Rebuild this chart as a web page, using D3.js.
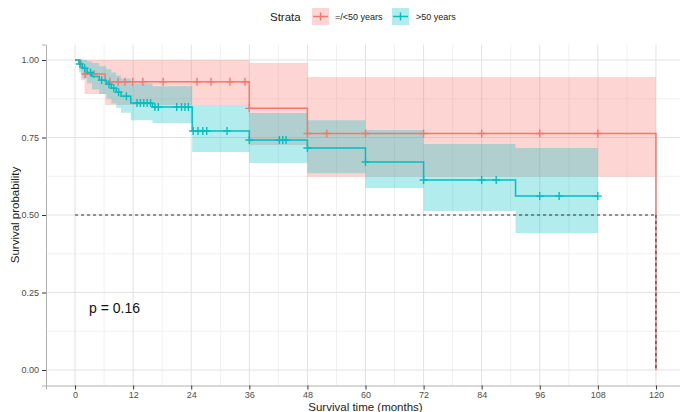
<!DOCTYPE html>
<html><head><meta charset="utf-8">
<script src="https://cdn.jsdelivr.net/npm/d3@7"></script>
<style>body{margin:0;background:#fff}svg{display:block;font-family:"Liberation Sans",Arial,sans-serif}</style>
</head><body><svg id="c" width="680" height="412"></svg>
<script>
const strata = ["=/<50 years", ">50 years"];
const colors = ["#F8766D", "#00BFC4"];
const xTicks = [0,12,24,36,48,60,72,84,96,108,120];
const yTicks = [0,0.25,0.5,0.75,1];

// =/<50 years
const redTime  = [0, 1.2, 2.0, 6.2, 36, 48, 120];
const redSurv  = [1, 0.977, 0.955, 0.93, 0.844, 0.763, 0];
const redUpper = [1, 1, 1, 1, 0.99, 0.945, 0.945];
const redLower = [1, 0.935, 0.89, 0.855, 0.726, 0.623, 0.623];
const redCensor = [2.1,3.9,7.2,8.9,10.3,11.9,14,18.2,25.2,28.1,32,35.1,36,48,52,60,72,84,96,108];

// >50 years
const tealTime  = [0, 0.8, 1.5, 2.5, 3.5, 5, 6.5, 7.5, 8.5, 9.5, 11.5, 16, 24.2, 36, 48, 60, 72, 91, 108];
const tealSurv  = [1, 0.987, 0.973, 0.96, 0.947, 0.935, 0.922, 0.909, 0.896, 0.883, 0.861, 0.848, 0.771, 0.742, 0.716, 0.671, 0.613, 0.561, 0.561];
const tealUpper = [1, 1, 1, 0.995, 0.99, 0.98, 0.97, 0.96, 0.95, 0.94, 0.925, 0.915, 0.855, 0.829, 0.806, 0.774, 0.729, 0.716, 0.716];
const tealLower = [1, 0.96, 0.94, 0.925, 0.905, 0.89, 0.875, 0.86, 0.845, 0.83, 0.806, 0.797, 0.703, 0.668, 0.635, 0.587, 0.513, 0.442, 0.442];
const tealCensor = [1,2,3.2,5.5,7,8,9,10.6,12.8,13.5,14.2,14.9,15.6,16.5,17.2,21,22,22.7,23.4,24.4,25.4,26.4,27.2,31.4,36,42.2,42.9,43.6,48,60,72,84,87,96,100,108];

const pText = "p = 0.16";
const medianTime = 120;

const svg = d3.select("#c");
const x = d3.scaleLinear().domain([-6,126]).range([46,685]);
const y = d3.scaleLinear().domain([-0.05,1.05]).range([385.5,44.5]);

// grid
const g = svg.append("g");
const minorX = xTicks.slice(0,-1).map(d=>d+6);
const minorY = [0.125,0.375,0.625,0.875];
g.selectAll(".mx").data(minorX).join("line").attr("x1",d=>x(d)).attr("x2",d=>x(d)).attr("y1",y(-0.05)).attr("y2",y(1.05)).attr("stroke","#f0f0f0").attr("stroke-width",1);
g.selectAll(".my").data(minorY).join("line").attr("y1",d=>y(d)).attr("y2",d=>y(d)).attr("x1",x(-6)).attr("x2",x(126)).attr("stroke","#f0f0f0").attr("stroke-width",1);
g.selectAll(".gx").data(xTicks).join("line").attr("x1",d=>x(d)).attr("x2",d=>x(d)).attr("y1",y(-0.05)).attr("y2",y(1.05)).attr("stroke","#e2e2e2").attr("stroke-width",1);
g.selectAll(".gy").data(yTicks).join("line").attr("y1",d=>y(d)).attr("y2",d=>y(d)).attr("x1",x(-6)).attr("x2",x(126)).attr("stroke","#e2e2e2").attr("stroke-width",1);

function series(time, surv, up, lo){ return time.map((t,i)=>({t, s:surv[i], u:up[i], l:lo[i]})); }
const groups = [
  {data: series(redTime, redSurv, redUpper, redLower), censor: redCensor, col: colors[0]},
  {data: series(tealTime, tealSurv, tealUpper, tealLower), censor: tealCensor, col: colors[1]}
];

const area = d3.area().curve(d3.curveStepAfter).x(d=>x(d.t)).y0(d=>y(d.l)).y1(d=>y(d.u));
const line = d3.line().curve(d3.curveStepAfter).x(d=>x(d.t)).y(d=>y(d.s));

groups.forEach(gr=>{
  svg.append("path").attr("d",area(gr.data)).attr("fill",gr.col).attr("fill-opacity",0.3);
});

function survAt(data, t){ let v=data[0].s; data.forEach(d=>{ if(d.t<=t) v=d.s; }); return v; }

groups.forEach(gr=>{
  svg.append("path").attr("d",line(gr.data)).attr("fill","none").attr("stroke",gr.col).attr("stroke-width",1.5);
  const cg = svg.append("g");
  gr.censor.forEach(t=>{
    const cx = x(t), cy = y(survAt(gr.data,t));
    cg.append("path").attr("d",`M${cx-4},${cy}H${cx+4}M${cx},${cy-4}V${cy+4}`).attr("stroke",gr.col).attr("stroke-width",1.4);
  });
});

// median lines
svg.append("line").attr("x1",x(0)).attr("x2",x(medianTime)).attr("y1",y(0.5)).attr("y2",y(0.5)).attr("stroke","#333").attr("stroke-width",1).attr("stroke-dasharray","3,3");
svg.append("line").attr("x1",x(medianTime)).attr("x2",x(medianTime)).attr("y1",y(0.5)).attr("y2",y(0)).attr("stroke","#333").attr("stroke-width",1).attr("stroke-dasharray","3,3");

// axes
const xa = svg.append("g").attr("transform",`translate(0,${y(-0.05)})`).call(d3.axisBottom(x).tickValues(xTicks).tickSize(4).tickPadding(2).tickFormat(d3.format("d")));
const ya = svg.append("g").attr("transform",`translate(${x(-6)},0)`).call(d3.axisLeft(y).tickValues(yTicks).tickSize(4).tickPadding(3).tickFormat(d3.format(".2f")));
[xa,ya].forEach(a=>{
  a.select(".domain").attr("stroke","#b0b0b0");
  a.selectAll(".tick line").attr("stroke","#333");
  a.selectAll(".tick text").attr("fill","#4d4d4d").style("font-size","9px").style("font-family","Liberation Sans, Arial, sans-serif");
});

svg.append("text").attr("x",x(60)).attr("y",411).attr("text-anchor","middle").style("font-size","11.5px").attr("fill","#222").text("Survival time (months)");
svg.append("text").attr("transform",`translate(19,${y(0.5)}) rotate(-90)`).attr("text-anchor","middle").style("font-size","11.5px").attr("fill","#222").text("Survival probability");

svg.append("text").attr("x",89).attr("y",y(0.2)+5).style("font-size","14px").attr("fill","#111").text(pText);

// legend
const lg = svg.append("g");
lg.append("text").attr("x",270).attr("y",21).style("font-size","11.5px").attr("fill","#222").text("Strata");
const keyX = [312, 392];
const labX = [335, 416];
strata.forEach((s,i)=>{
  lg.append("rect").attr("x",keyX[i]).attr("y",8).attr("width",17).attr("height",17).attr("fill",colors[i]).attr("fill-opacity",0.3);
  const cx = keyX[i]+8.5, cy = 16.5;
  lg.append("path").attr("d",`M${keyX[i]+1},${cy}H${keyX[i]+16}M${cx},${cy-4}V${cy+4}`).attr("stroke",colors[i]).attr("stroke-width",1.4);
  lg.append("text").attr("x",labX[i]).attr("y",20).style("font-size","9px").attr("fill","#222").text(s);
});
</script></body></html>
